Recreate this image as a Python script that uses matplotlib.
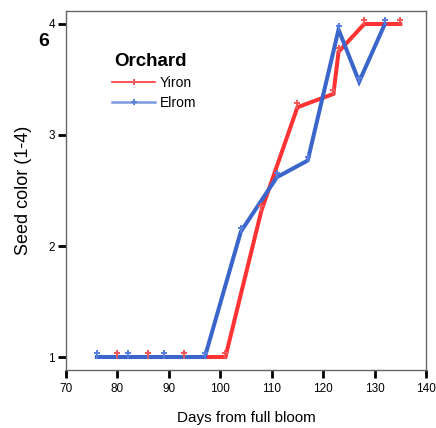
import matplotlib
matplotlib.use("Agg")
import matplotlib.pyplot as plt
import matplotlib.transforms as mtransforms

plt.rcParams['font.family'] = ['Liberation Sans', 'DejaVu Sans']

# Yiron orchard
yiron_days = [80, 86, 93, 101, 108, 115, 122, 123, 128, 135]
yiron_color = [1.0, 1.0, 1.0, 1.0, 2.32, 3.25, 3.37, 3.75, 4.0, 4.0]
# Elrom orchard
elrom_days = [76, 82, 89, 97, 104, 111, 117, 123, 127, 132]
elrom_color = [1.0, 1.0, 1.0, 1.0, 2.13, 2.62, 2.77, 3.95, 3.48, 4.0]

red = '#ff3333'
blue = '#3a66cc'
red_m = '#f25a5a'
blue_m = '#5a7fdc'

fig = plt.figure(figsize=(4.36, 4.28), dpi=100)
ax = fig.add_axes([66/436, 1-370/428, 360/436, 359/428])

# markers sit a little above the data point, on a short stem
off = mtransforms.offset_copy(ax.transData, fig=fig, x=0, y=4, units='dots')
stem = mtransforms.offset_copy(ax.transData, fig=fig, x=0, y=1.5, units='dots')

ax.plot(yiron_days, yiron_color, color=red, linewidth=2.9, solid_joinstyle='miter', zorder=3)
ax.plot(elrom_days, elrom_color, color=blue, linewidth=2.9, solid_joinstyle='miter', zorder=4)
for d, v, c in [(yiron_days, yiron_color, red_m), (elrom_days, elrom_color, blue_m)]:
    ax.plot(d, v, 'P', color=c, markersize=4.5, markeredgewidth=0, transform=off, zorder=5)
    ax.plot(d, v, '|', color=c, markersize=4, markeredgewidth=1.2, transform=stem, zorder=5)

# legend handles
h1, = ax.plot([], [], color=red, linewidth=1.2, marker='P', markersize=4.5,
              markerfacecolor=red_m, markeredgewidth=0)
h2, = ax.plot([], [], color='#7a9ae0', linewidth=1.8, marker='P', markersize=4.5,
              markerfacecolor=blue_m, markeredgewidth=0)
leg = ax.legend([h1, h2], ['Yiron', 'Elrom'], frameon=False,
                loc='upper left', bbox_to_anchor=(112/436, 1-76/428),
                bbox_transform=fig.transFigure, borderaxespad=0, borderpad=0,
                fontsize=10, handlelength=3.1, handletextpad=0.35, labelspacing=0.42)
fig.text(114/436, 1-62/428, 'Orchard', fontsize=13.5, fontweight='bold',
         ha='left', va='center')

ax.set_xlim(70, 140)
ax.set_ylim(0.883, 4.117)
ax.set_xticks(range(70, 141, 10))
ax.set_yticks([1, 2, 3, 4])
ax.tick_params(axis='both', direction='out', length=6, width=2, labelsize=8.5, color='black')
ax.tick_params(axis='y', pad=2)
ax.tick_params(axis='x', pad=3)
for s in ax.spines.values():
    s.set_color('#666666')
    s.set_linewidth(1.0)

ax.set_xlabel('Days from full bloom', fontsize=11, labelpad=12)
ax.set_ylabel('Seed color (1-4)', fontsize=13, labelpad=12)

fig.text(44/436, 1-42/428, '6', fontsize=14, fontweight='bold', ha='center', va='center')

fig.savefig('out.png', dpi=100)
